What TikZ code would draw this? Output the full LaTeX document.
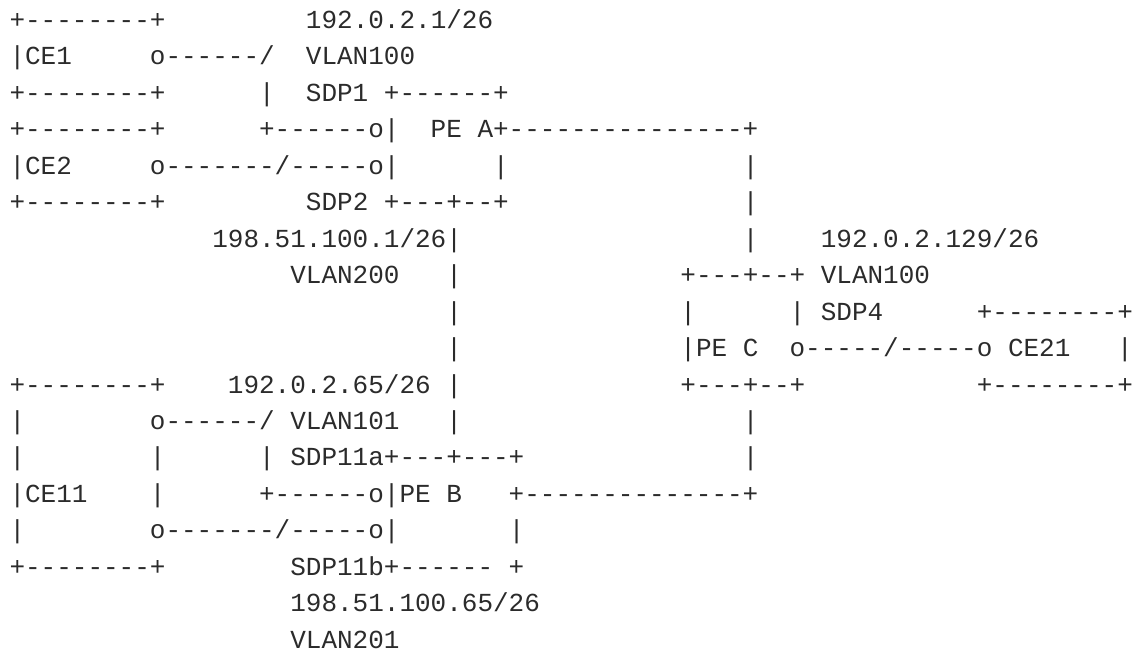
\documentclass[tikz,border=0pt]{standalone}
\usepackage{fontspec}
\setmonofont{Liberation Mono}
\definecolor{ink}{HTML}{2B2B2B}
\newcommand\sk[1]{\hspace*{#1\fontcharwd\font`\0}}
\tikzset{asciiline/.style={anchor=base west, inner sep=0pt, outer sep=0pt,
  font=\ttfamily\fontsize{26}{31}\selectfont, text=ink}}
\begin{document}
\begin{tikzpicture}[x=1pt,y=-1pt]
\useasboundingbox (0,0) rectangle (1134,658);
\node[asciiline] (l1)  at (9.5,28.5)   {+--------+\sk{9}192.0.2.1/26};
\node[asciiline] (l2)  at (9.5,64.95)  {|CE1\sk{5}o------/\sk{2}VLAN100};
\node[asciiline] (l3)  at (9.5,101.4)  {+--------+\sk{6}|\sk{2}SDP1\sk{1}+------+};
\node[asciiline] (l4)  at (9.5,137.85) {+--------+\sk{6}+------o|\sk{2}PE\sk{1}A+---------------+};
\node[asciiline] (l5)  at (9.5,174.3)  {|CE2\sk{5}o-------/-----o|\sk{6}|\sk{15}|};
\node[asciiline] (l6)  at (9.5,210.75) {+--------+\sk{9}SDP2\sk{1}+---+--+\sk{15}|};
\node[asciiline] (l7)  at (9.5,247.2)  {\sk{13}198.51.100.1/26|\sk{18}|\sk{4}192.0.2.129/26};
\node[asciiline] (l8)  at (9.5,283.65) {\sk{18}VLAN200\sk{3}|\sk{14}+---+--+\sk{1}VLAN100};
\node[asciiline] (l9)  at (9.5,320.1)  {\sk{28}|\sk{14}|\sk{6}|\sk{1}SDP4\sk{6}+--------+};
\node[asciiline] (l10) at (9.5,356.55) {\sk{28}|\sk{14}|PE\sk{1}C\sk{2}o-----/-----o\sk{1}CE21\sk{3}|};
\node[asciiline] (l11) at (9.5,393.0)  {+--------+\sk{4}192.0.2.65/26\sk{1}|\sk{14}+---+--+\sk{11}+--------+};
\node[asciiline] (l12) at (9.5,429.45) {|\sk{8}o------/\sk{1}VLAN101\sk{3}|\sk{18}|};
\node[asciiline] (l13) at (9.5,465.9)  {|\sk{8}|\sk{6}|\sk{1}SDP11a+---+---+\sk{14}|};
\node[asciiline] (l14) at (9.5,502.35) {|CE11\sk{4}|\sk{6}+------o|PE\sk{1}B\sk{3}+--------------+};
\node[asciiline] (l15) at (9.5,538.8)  {|\sk{8}o-------/-----o|\sk{7}|};
\node[asciiline] (l16) at (9.5,575.25) {+--------+\sk{8}SDP11b+------\sk{1}+};
\node[asciiline] (l17) at (9.5,611.7)  {\sk{18}198.51.100.65/26};
\node[asciiline] (l18) at (9.5,648.15) {\sk{18}VLAN201};
\end{tikzpicture}
\end{document}
